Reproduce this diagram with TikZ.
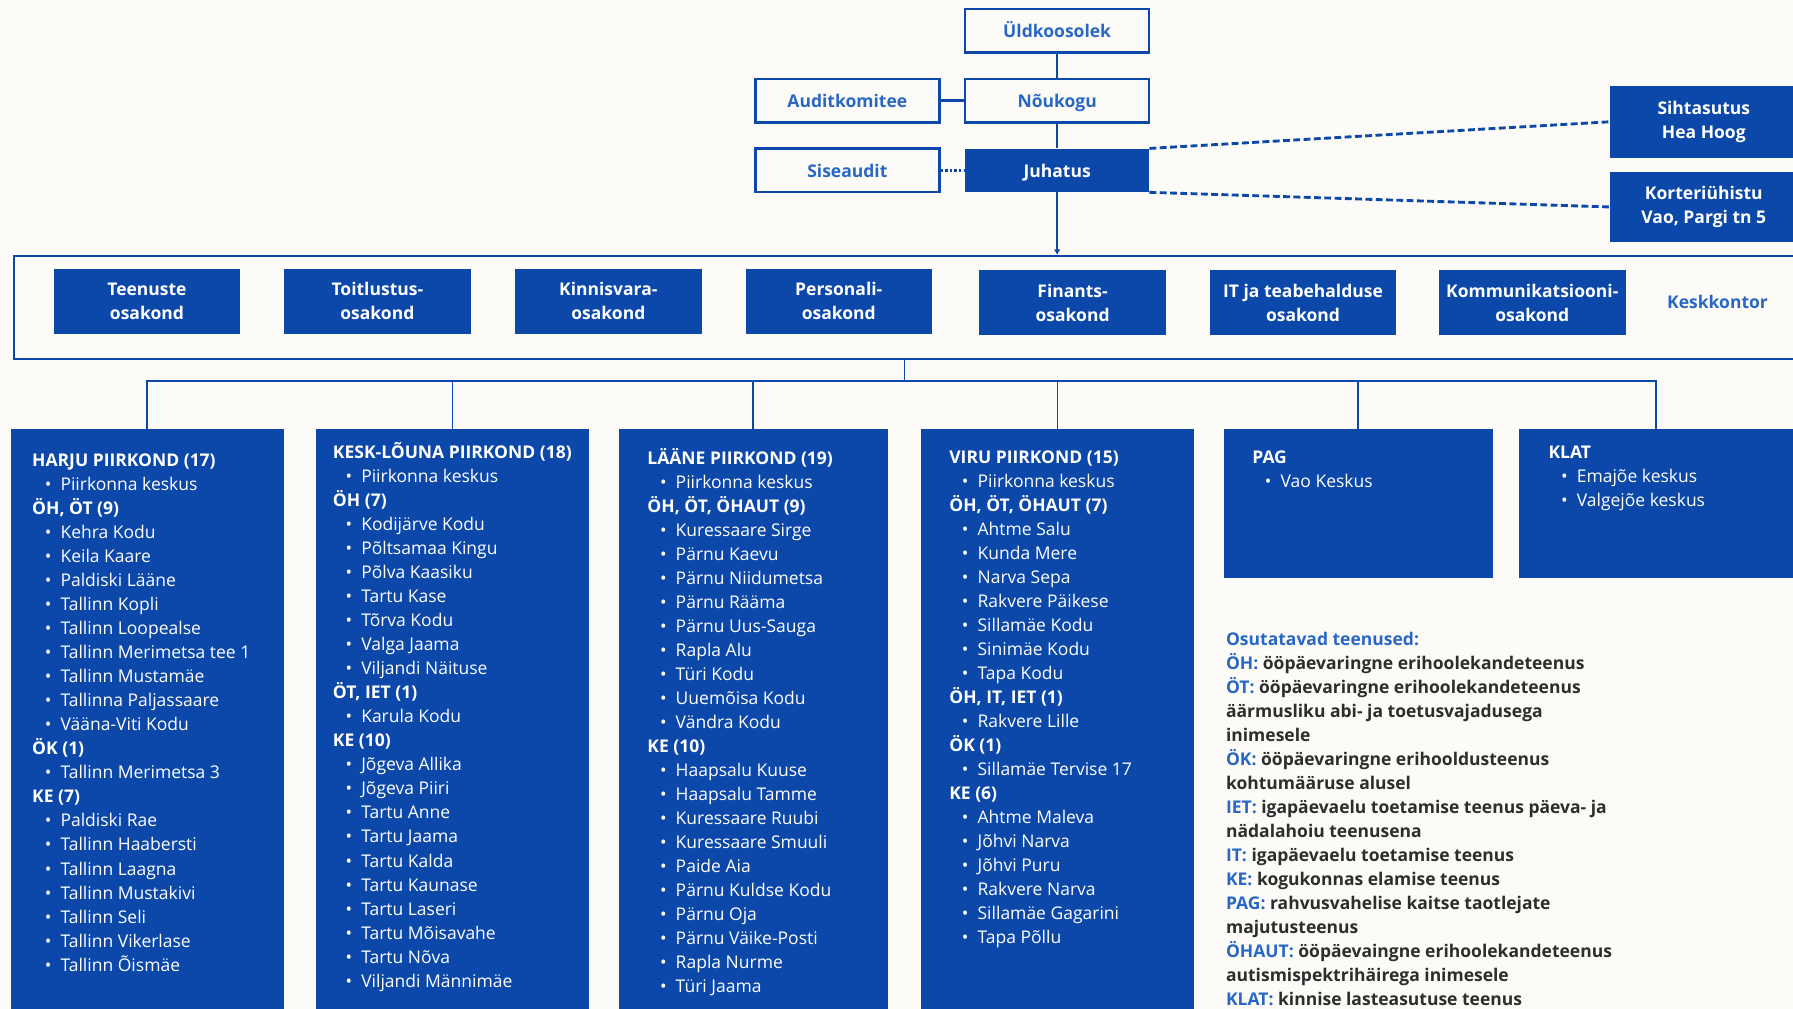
\documentclass[tikz,border=0pt]{standalone}
\usepackage{fontspec}
\setmainfont{Open Sans}
\usetikzlibrary{arrows.meta}

\definecolor{obblue}{RGB}{12,72,170}
\definecolor{keyblue}{RGB}{40,104,196}
\definecolor{bgc}{RGB}{252,251,247}
\definecolor{legtext}{RGB}{45,45,45}

\newcommand{\basefont}{\fontsize{15.3}{21}\selectfont}
\newcommand{\itm}[1]{\hspace*{11pt}\textbullet\hspace{8pt}#1}
\newcommand{\hd}[1]{\textbf{#1}}
\newcommand{\key}[1]{\textcolor{keyblue}{#1}}
\newcommand{\firstline}{\rule{0pt}{15pt}}

\tikzset{
  topbox/.style={draw=obblue, line width=2.2pt, fill=bgc, text=keyblue, font=\basefont\bfseries, minimum width=161pt, minimum height=38pt, inner sep=0pt, text height=13pt, text depth=1pt},
  filledbox/.style={fill=obblue, text=white, font=\basefont\bfseries, align=center, inner sep=0pt},
  deptbox/.style={filledbox, minimum width=163pt, minimum height=57pt},
  regionbox/.style={fill=obblue, anchor=north west, inner sep=0pt},
  regiontext/.style={text=white, font=\basefont, align=left, anchor=north west, inner sep=0pt},
  link/.style={obblue, line width=1.5pt},
  dashlink/.style={obblue, line width=2.5pt, dash pattern=on 6pt off 3pt},
}

\begin{document}
\begin{tikzpicture}[x=1pt, y=-1pt]
		% page
		\useasboundingbox (0,0) rectangle (1568,882);
		\fill[bgc] (0,0) rectangle (1568,882);
		% board level
		\node[topbox] (uldk) at (924.5,27) {Üldkoosolek};
		\node[topbox] (noukogu) at (924.5,88) {Nõukogu};
		\node[topbox] (audit) at (741,88) {Auditkomitee};
		\node[topbox] (sisea) at (741,149) {Siseaudit};
		\node[filledbox, minimum width=161pt, minimum height=38pt, text height=13pt, text depth=1pt] (juhatus) at (924.5,149) {Juhatus};
		\node[filledbox, minimum width=164pt, minimum height=63pt] (hoog) at (1490,106.5) {Sihtasutus\\Hea Hoog};
		\node[filledbox, minimum width=164pt, minimum height=62pt] (korter) at (1490,181) {Korteriühistu\\Vao, Pargi tn 5};
		\draw[link] (uldk) -- (noukogu);
		\draw[obblue, line width=3pt] (audit) -- (noukogu);
		\draw[link] (noukogu) -- (juhatus);
		\draw[obblue, line width=2pt, dotted] (sisea) -- (juhatus);
		\draw[dashlink] (juhatus.north east) -- (hoog.west);
		\draw[dashlink] (juhatus.south east) -- (korter.west);
		% head office
		\node[draw=obblue, line width=2pt, minimum width=1575pt, minimum height=90pt, anchor=north west, inner sep=0pt] (kesk) at (11,223) {};
		\draw[link, -{Latex[length=5pt,width=6pt]}] (juhatus) -- (juhatus |- kesk.north);
		\node[deptbox] (teenused) at (128.5,263.5) {Teenuste\\osakond};
		\node[deptbox] (toitlustus) at (330,263.5) {Toitlustus-\\osakond};
		\node[deptbox] (kinnisvara) at (532,263.5) {Kinnisvara-\\osakond};
		\node[deptbox] (personal) at (733.5,263.5) {Personali-\\osakond};
		\node[deptbox] (finants) at (938,264.5) {Finants-\\osakond};
		\node[deptbox] (itosakond) at (1139.5,264.5) {IT ja teabehalduse\\osakond};
		\node[deptbox] (kommunik) at (1340,264.5) {Kommunikatsiooni-\\osakond};
		\node[text=keyblue, font=\basefont\bfseries] (kesktxt) at (1502,264) {Keskkontor};
		% regions
		\node[regionbox, minimum width=239pt, minimum height=520pt] (harju) at (9,375) {};
		\node[regionbox, minimum width=239pt, minimum height=520pt] (kesklouna) at (276,375) {};
		\node[regionbox, minimum width=235pt, minimum height=520pt] (laane) at (541,375) {};
		\node[regionbox, minimum width=239pt, minimum height=520pt] (viru) at (805,375) {};
		\node[regionbox, minimum width=235pt, minimum height=130pt] (pag) at (1070,375) {};
		\node[regionbox, minimum width=240pt, minimum height=130pt] (klat) at (1328,375) {};
		\coordinate (bus) at (791,333);
		\draw[link] (kesk.south -| bus) -- (bus);
		\draw[link] (harju.north) |- (klat.north |- bus) -- (klat.north);
		\foreach \r in {kesklouna,laane,viru,pag}
			\draw[link] (\r.north) -- (\r.north |- bus);
		\node[regiontext] (harjutxt) at (28,393) {\firstline\hd{HARJU PIIRKOND (17)}\\
			\itm{Piirkonna keskus}\\ \hd{ÖH, ÖT (9)}\\
			\itm{Kehra Kodu}\\ \itm{Keila Kaare}\\ \itm{Paldiski Lääne}\\ \itm{Tallinn Kopli}\\
			\itm{Tallinn Loopealse}\\ \itm{Tallinn Merimetsa tee 1}\\ \itm{Tallinn Mustamäe}\\
			\itm{Tallinna Paljassaare}\\ \itm{Vääna-Viti Kodu}\\ \hd{ÖK (1)}\\
			\itm{Tallinn Merimetsa 3}\\ \hd{KE (7)}\\
			\itm{Paldiski Rae}\\ \itm{Tallinn Haabersti}\\ \itm{Tallinn Laagna}\\ \itm{Tallinn Mustakivi}\\
			\itm{Tallinn Seli}\\ \itm{Tallinn Vikerlase}\\ \itm{Tallinn Õismäe}};
		\node[regiontext] (keskloutxt) at (291,386) {\firstline\hd{KESK-LÕUNA PIIRKOND (18)}\\
			\itm{Piirkonna keskus}\\ \hd{ÖH (7)}\\
			\itm{Kodijärve Kodu}\\ \itm{Põltsamaa Kingu}\\ \itm{Põlva Kaasiku}\\ \itm{Tartu Kase}\\
			\itm{Tõrva Kodu}\\ \itm{Valga Jaama}\\ \itm{Viljandi Näituse}\\ \hd{ÖT, IET (1)}\\
			\itm{Karula Kodu}\\ \hd{KE (10)}\\
			\itm{Jõgeva Allika}\\ \itm{Jõgeva Piiri}\\ \itm{Tartu Anne}\\ \itm{Tartu Jaama}\\
			\itm{Tartu Kalda}\\ \itm{Tartu Kaunase}\\ \itm{Tartu Laseri}\\ \itm{Tartu Mõisavahe}\\
			\itm{Tartu Nõva}\\ \itm{Viljandi Männimäe}};
		\node[regiontext] (laanetxt) at (566,391) {\firstline\hd{LÄÄNE PIIRKOND (19)}\\
			\itm{Piirkonna keskus}\\ \hd{ÖH, ÖT, ÖHAUT (9)}\\
			\itm{Kuressaare Sirge}\\ \itm{Pärnu Kaevu}\\ \itm{Pärnu Niidumetsa}\\ \itm{Pärnu Rääma}\\
			\itm{Pärnu Uus-Sauga}\\ \itm{Rapla Alu}\\ \itm{Türi Kodu}\\ \itm{Uuemõisa Kodu}\\
			\itm{Vändra Kodu}\\ \hd{KE (10)}\\
			\itm{Haapsalu Kuuse}\\ \itm{Haapsalu Tamme}\\ \itm{Kuressaare Ruubi}\\ \itm{Kuressaare Smuuli}\\
			\itm{Paide Aia}\\ \itm{Pärnu Kuldse Kodu}\\ \itm{Pärnu Oja}\\ \itm{Pärnu Väike-Posti}\\
			\itm{Rapla Nurme}\\ \itm{Türi Jaama}};
		\node[regiontext] (virutxt) at (830,390) {\firstline\hd{VIRU PIIRKOND (15)}\\
			\itm{Piirkonna keskus}\\ \hd{ÖH, ÖT, ÖHAUT (7)}\\
			\itm{Ahtme Salu}\\ \itm{Kunda Mere}\\ \itm{Narva Sepa}\\ \itm{Rakvere Päikese}\\
			\itm{Sillamäe Kodu}\\ \itm{Sinimäe Kodu}\\ \itm{Tapa Kodu}\\ \hd{ÖH, IT, IET (1)}\\
			\itm{Rakvere Lille}\\ \hd{ÖK (1)}\\ \itm{Sillamäe Tervise 17}\\ \hd{KE (6)}\\
			\itm{Ahtme Maleva}\\ \itm{Jõhvi Narva}\\ \itm{Jõhvi Puru}\\ \itm{Rakvere Narva}\\
			\itm{Sillamäe Gagarini}\\ \itm{Tapa Põllu}};
		\node[regiontext] (pagtxt) at (1095,390) {\firstline\hd{PAG}\\ \itm{Vao Keskus}};
		\node[regiontext] (klattxt) at (1354,386) {\firstline\hd{KLAT}\\ \itm{Emajõe keskus}\\ \itm{Valgejõe keskus}};
		% legend
		\node[regiontext, text=legtext, font=\basefont\bfseries] (legend) at (1072,549) {\firstline\key{Osutatavad teenused:}\\
			\key{ÖH:} ööpäevaringne erihoolekandeteenus\\
			\key{ÖT:} ööpäevaringne erihoolekandeteenus\\ äärmusliku abi- ja toetusvajadusega\\ inimesele\\
			\key{ÖK:} ööpäevaringne erihooldusteenus\\ kohtumääruse alusel\\
			\key{IET:} igapäevaelu toetamise teenus päeva- ja\\ nädalahoiu teenusena\\
			\key{IT:} igapäevaelu toetamise teenus\\
			\key{KE:} kogukonnas elamise teenus\\
			\key{PAG:} rahvusvahelise kaitse taotlejate\\ majutusteenus\\
			\key{ÖHAUT:} ööpäevaingne erihoolekandeteenus\\ autismispektrihäirega inimesele\\
			\key{KLAT:} kinnise lasteasutuse teenus};
	\end{tikzpicture}
\end{document}
